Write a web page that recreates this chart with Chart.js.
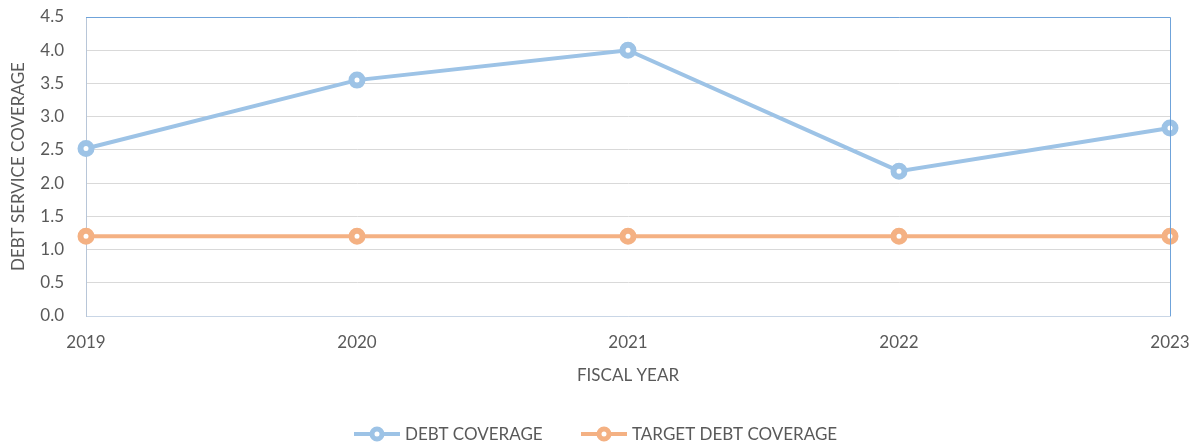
<!DOCTYPE html>
<html>
<head>
<meta charset="utf-8">
<script src="https://cdn.jsdelivr.net/npm/chart.js@4/dist/chart.umd.min.js"></script>
<style>
  html, body { margin: 0; padding: 0; background: #fff; }
  #wrap { width: 1193px; height: 447px; }
</style>
</head>
<body>
<div id="wrap"><canvas id="chart" width="1193" height="447"></canvas></div>
<script>
const years = ['2019', '2020', '2021', '2022', '2023'];
const debtCoverage = [2.52, 3.55, 4.0, 2.18, 2.83];
const targetCoverage = [1.2, 1.2, 1.2, 1.2, 1.2];
const yTicks = [0, 0.5, 1, 1.5, 2, 2.5, 3, 3.5, 4, 4.5];

const FONT = 'Lato, "Liberation Sans", sans-serif';
const TEXT = '#595959';
const BLUE = '#9dc3e6';
const ORANGE = '#f4b183';

// top + right edge of the plot area, drawn in blue like the original
const plotFrame = {
  id: 'plotFrame',
  afterDatasetsDraw(chart) {
    const { ctx, chartArea: a } = chart;
    ctx.save();
    ctx.strokeStyle = '#6fa3da';
    ctx.lineWidth = 1;
    ctx.beginPath();
    ctx.moveTo(a.left, a.top + 0.5);
    ctx.lineTo(a.right + 0.5, a.top + 0.5);
    ctx.lineTo(a.right + 0.5, a.bottom);
    ctx.stroke();
    ctx.restore();
  }
};

// legend: line + ring marker, then label
const lineLegend = {
  id: 'lineLegend',
  afterDraw(chart) {
    const { ctx } = chart;
    const y = 434;
    const starts = [354, 581];
    ctx.save();
    ctx.font = '17px ' + FONT;
    ctx.textBaseline = 'middle';
    chart.data.datasets.forEach((ds, i) => {
      const x = starts[i];
      ctx.strokeStyle = ds.borderColor;
      ctx.lineWidth = 4;
      ctx.beginPath();
      ctx.moveTo(x, y);
      ctx.lineTo(x + 46, y);
      ctx.stroke();
      ctx.beginPath();
      ctx.arc(x + 23, y, 5, 0, Math.PI * 2);
      ctx.fillStyle = '#fff';
      ctx.fill();
      ctx.lineWidth = 5;
      ctx.stroke();
      ctx.fillStyle = TEXT;
      ctx.fillText(ds.label, x + 51, y + 1);
    });
    ctx.restore();
  }
};

// keep tick padding from pushing the plot area around
function noEdgePadding(scale) {
  scale.paddingTop = 0;
  scale.paddingBottom = 0;
  scale.paddingLeft = 0;
  scale.paddingRight = 0;
}

new Chart(document.getElementById('chart').getContext('2d'), {
  type: 'line',
  data: {
    labels: years,
    datasets: [
      {
        label: 'DEBT COVERAGE',
        data: debtCoverage,
        borderColor: BLUE,
        backgroundColor: '#fff',
        borderWidth: 4,
        pointRadius: 5.5,
        pointBorderWidth: 6,
        pointBackgroundColor: '#fff',
        pointBorderColor: BLUE,
        tension: 0
      },
      {
        label: 'TARGET DEBT COVERAGE',
        data: targetCoverage,
        borderColor: ORANGE,
        backgroundColor: '#fff',
        borderWidth: 4,
        pointRadius: 5.5,
        pointBorderWidth: 6,
        pointBackgroundColor: '#fff',
        pointBorderColor: ORANGE,
        tension: 0
      }
    ]
  },
  options: {
    responsive: false,
    animation: false,
    layout: { padding: { left: 0, top: 17, right: 23, bottom: 0 } },
    plugins: {
      legend: { display: false },
      tooltip: { enabled: false }
    },
    scales: {
      x: {
        offset: false,
        grid: { display: false, drawTicks: false },
        border: { color: '#c9d6e6', width: 1 },
        ticks: { color: TEXT, font: { family: FONT, size: 17 }, padding: 16, maxRotation: 0 },
        title: {
          display: true,
          text: 'FISCAL YEAR',
          color: TEXT,
          font: { family: FONT, size: 17 },
          padding: { top: 0, bottom: 61 }
        },
        afterFit(scale) { scale.height = 131; noEdgePadding(scale); }
      },
      y: {
        min: 0,
        max: 4.5,
        afterBuildTicks(scale) { scale.ticks = yTicks.map(v => ({ value: v })); },
        grid: { color: '#d9d9d9', drawTicks: false },
        border: { color: '#b8c6d8', width: 1 },
        ticks: {
          color: TEXT,
          font: { family: FONT, size: 17 },
          padding: 22,
          callback: v => Number(v).toFixed(1)
        },
        title: {
          display: true,
          text: 'DEBT SERVICE COVERAGE',
          color: TEXT,
          font: { family: FONT, size: 17 },
          padding: { top: 8, bottom: 0 }
        },
        afterFit(scale) { scale.width = 86; noEdgePadding(scale); }
      }
    }
  },
  plugins: [plotFrame, lineLegend]
});
</script>
</body>
</html>
